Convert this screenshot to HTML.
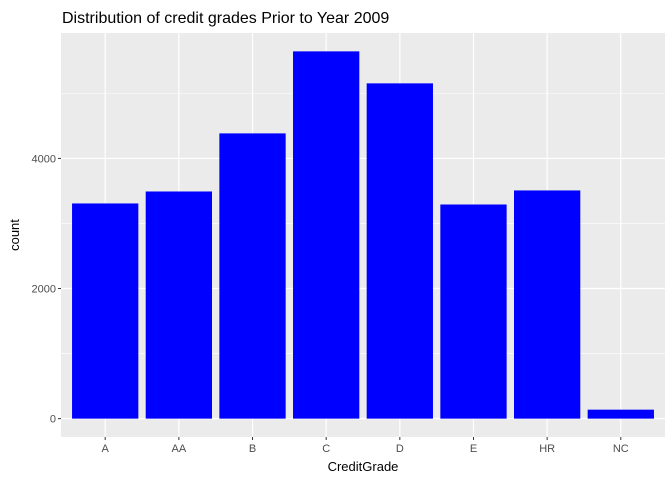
<!DOCTYPE html>
<html><head><meta charset="utf-8"><style>
body{margin:0;background:#fff;font-family:"Liberation Sans",Arial,sans-serif}
</style></head><body>
<svg id="chart" width="672" height="480" xmlns="http://www.w3.org/2000/svg">
<text x="62" y="23" font-size="16" fill="#000">Distribution of credit grades Prior to Year 2009</text>
<rect x="61" y="33" width="604" height="404" fill="#EBEBEB"/>
<g id="grid"></g><g id="bars"></g><g id="axes"></g>
<text x="363" y="471" font-size="13" text-anchor="middle" fill="#000">CreditGrade</text>
<text transform="translate(19,235) rotate(-90)" font-size="13" text-anchor="middle" fill="#000">count</text>
</svg>
<script>
const categories=["A","AA","B","C","D","E","HR","NC"];
const counts=[3308,3492,4385,5646,5154,3292,3508,138];
const yTicks=[0,2000,4000];
const yMinor=[1000,3000,5000];
const ns="http://www.w3.org/2000/svg";
const L=61,R=665,T=33,B=437;
const ymax=Math.max(...counts)*1.05, ymin=-ymax/21;
const y=v=>B-(v-ymin)/(ymax-ymin)*(B-T);
const step=(R-L)/(categories.length+0.2);
const x=i=>L+step*(0.6+i);
function mk(tag,a,p){const e=document.createElementNS(ns,tag);for(const k in a)e.setAttribute(k,a[k]);document.getElementById(p).appendChild(e);return e;}
yMinor.forEach(v=>{const e=mk("line",{x1:L,x2:R,y1:y(v),y2:y(v),stroke:"#fff","stroke-width":0.6},"grid");

});
yTicks.forEach(v=>{const e=mk("line",{x1:L,x2:R,y1:y(v),y2:y(v),stroke:"#fff","stroke-width":1.2},"grid");


const t=mk("text",{x:L-5,y:y(v)+4,"font-size":11,"text-anchor":"end",fill:"#4D4D4D"},"axes");t.textContent=v;


const k=mk("line",{x1:L-3,x2:L,y1:y(v),y2:y(v),stroke:"#333"},"axes");

});
categories.forEach((c,i)=>{const g=mk("line",{x1:x(i),x2:x(i),y1:T,y2:B,stroke:"#fff","stroke-width":1.2},"grid");


const w=step*0.9;
const b=mk("rect",{x:x(i)-w/2,y:y(counts[i]),width:w,height:y(0)-y(counts[i]),fill:"#0000FF"},"bars");


const k=mk("line",{x1:x(i),x2:x(i),y1:B,y2:B+3,stroke:"#333"},"axes");


const t=mk("text",{x:x(i),y:B+15,"font-size":11,"text-anchor":"middle",fill:"#4D4D4D"},"axes");t.textContent=c;

});
</script>
</body></html>
